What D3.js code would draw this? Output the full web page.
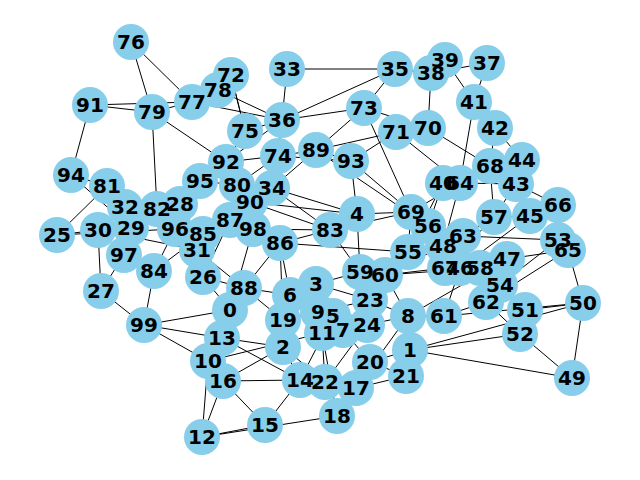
<!DOCTYPE html>
<html><head><meta charset="utf-8">
<script src="https://cdn.jsdelivr.net/npm/d3@7"></script>
<style>body{margin:0;background:#fff}</style>
</head><body>
<div id="graph"></div>
<script>
// layout positions (layout units)
var nodeX = [230,410,283,316,357,333,290,343,408,318,208,322,202,222,300,265,223,356,337,283,
  370,406,325,370,367,57,203,101,180,131,98,197,125,287,272,395,282,487,431,445,
  443,474,495,516,522,530,460,507,443,572,583,525,520,558,500,408,428,494,480,360,
  385,444,486,463,460,568,558,445,490,411,428,396,231,364,278,245,131,192,218,152,
  237,107,157,330,154,203,280,230,244,316,250,90,226,351,71,200,175,124,253,144];
var nodeY = [310,350,347,284,214,316,295,330,316,312,361,333,437,338,380,425,381,388,416,320,
  362,376,382,300,325,235,277,291,204,228,230,250,207,69,188,69,120,63,73,60,
  183,102,128,184,160,216,268,259,246,378,303,310,334,240,285,252,226,217,268,272,
  275,316,302,236,183,250,205,268,166,212,128,132,75,108,156,131,42,102,90,112,
  185,186,209,230,271,234,243,220,288,150,202,105,162,161,175,181,229,255,229,325];

var edges = [[33,35],[33,36],[35,38],[35,36],[35,73],[37,38],[39,38],[39,41],[37,41],[41,42],[41,64],
  [42,68],[42,44],[44,43],[43,45],[45,66],[66,53],[53,65],[65,50],[50,49],[49,52],[49,1],[50,51],
  [51,54],[52,62],[54,47],[47,58],[58,46],[46,67],[67,48],[48,63],[63,57],[57,43],[68,40],[40,64],
  [64,69],[69,56],[56,55],[55,60],[60,59],[59,4],[4,83],[83,86],[86,98],[98,90],[90,80],[80,92],
  [92,95],[95,28],[28,82],[82,32],[32,29],[29,30],[30,25],[25,81],[81,94],[94,91],[91,79],[79,77],
  [77,76],[76,79],[77,78],[78,72],[72,75],[75,36],[36,74],[74,89],[89,93],[93,71],[71,70],[70,38],
  [70,73],[73,36],[89,71],[89,73],[36,92],[74,34],[34,80],[34,4],[4,69],[69,55],[55,48],[8,61],
  [61,62],[62,54],[1,8],[1,21],[21,20],[20,17],[17,18],[17,22],[22,14],[14,16],[16,12],[12,15],
  [12,18],[15,16],[14,2],[2,19],[19,6],[6,3],[3,9],[9,5],[5,11],[11,7],[7,24],[24,23],[23,60],
  [24,8],[8,60],[0,88],[0,13],[13,10],[10,16],[10,99],[99,84],[84,97],[97,27],[27,30],[97,29],
  [84,96],[96,31],[31,85],[85,87],[87,98],[26,88],[88,6],[26,31],[0,99],[13,2],[13,14],[2,22],
  [11,22],[9,23],[3,59],[6,86],[88,86],[19,88],[5,24],[7,20],[20,1],[21,17],[1,52],[1,50],[8,47],
  [61,46],[67,60],[60,58],[63,53],[57,45],[43,66],[68,57],[64,43],[40,56],[56,63],[48,60],[55,59],
  [83,59],[83,90],[83,34],[4,93],[93,74],[74,92],[80,95],[87,90],[87,26],[85,96],[96,82],[28,31],
  [32,97],[81,82],[79,82],[79,92],[75,92],[78,36],[72,75],[77,36],[91,77],[34,89],[71,64],[70,68],
  [73,69],[89,56],[93,69],[86,55],[98,83],[90,4],[80,74],[0,10],[13,99],[14,5],[16,2],[10,11],
  [22,24],[17,8],[18,11],[15,14],[12,10],[0,26],[88,31],[19,9],[3,23],[23,8],[61,50],[62,65],
  [54,53],[58,51],[47,65],[46,45],[67,57],[48,64],[55,40],[69,83],[56,60],[98,0],[86,19],[84,85],
  [27,99],[25,96],[30,31],[94,29]];

var width = 640, height = 480;
var xScale = d3.scaleLinear().domain([0,640]).range([0,width]);
var yScale = d3.scaleLinear().domain([0,480]).range([0,height]);

var nodes = nodeX.map(function(d, i){ return {id: i, x: xScale(d), y: yScale(nodeY[i])}; });

var svg = d3.select('#graph').append('svg')
  .attr('width', width).attr('height', height);

svg.append('g').selectAll('line')
  .data(edges).enter().append('line')
  .attr('x1', function(d){ return nodes[d[0]].x; })
  .attr('y1', function(d){ return nodes[d[0]].y; })
  .attr('x2', function(d){ return nodes[d[1]].x; })
  .attr('y2', function(d){ return nodes[d[1]].y; })
  .attr('stroke', 'black').attr('stroke-width', 1);

// all circles first, then all labels on top (like networkx)
svg.append('g').selectAll('circle').data(nodes).enter().append('circle')
  .attr('cx', function(d){ return d.x; })
  .attr('cy', function(d){ return d.y; })
  .attr('r', 18).attr('fill', '#87ceeb');

svg.append('g').selectAll('text').data(nodes).enter().append('text')
  .attr('x', function(d){ return d.x; })
  .attr('y', function(d){ return d.y; })
  .attr('text-anchor', 'middle').attr('dy', '0.36em')
  .style('font-family', 'DejaVu Sans').style('font-weight', 'bold').style('font-size', '20px')
  .text(function(d){ return d.id; });
</script>
</body></html>
